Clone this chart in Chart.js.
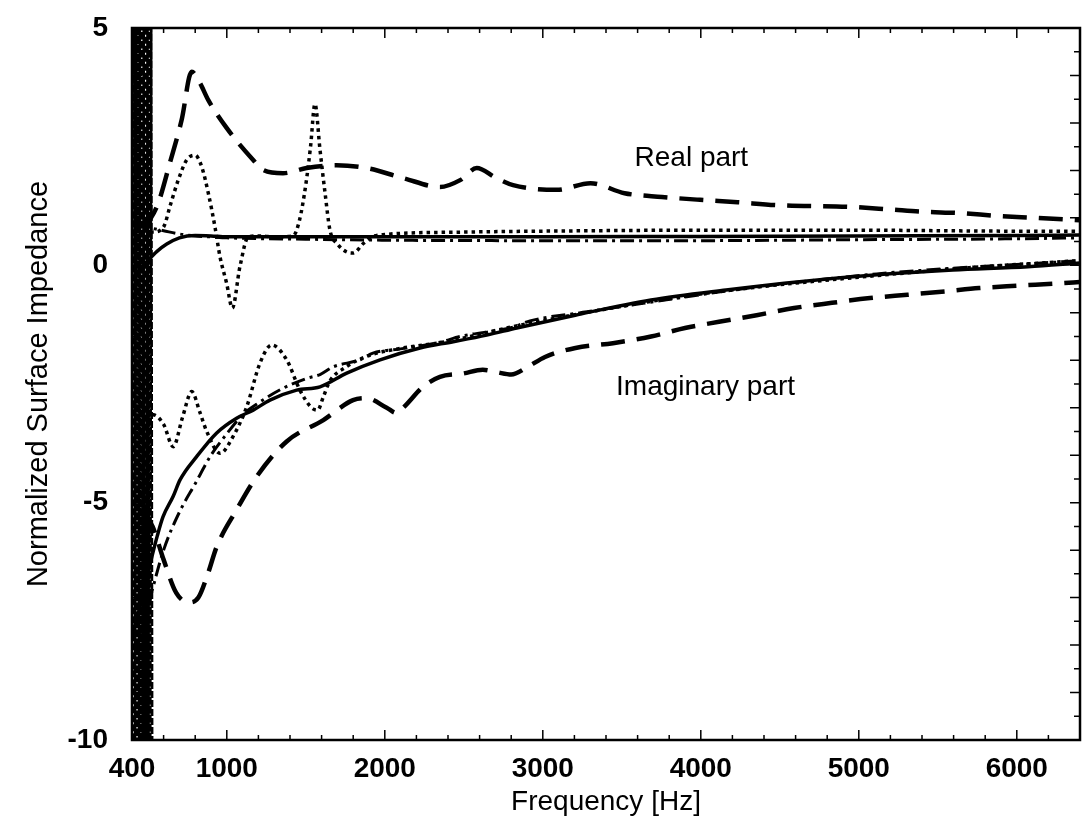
<!DOCTYPE html>
<html>
<head>
<meta charset="utf-8">
<script src="https://cdn.jsdelivr.net/npm/chart.js@4.4.1/dist/chart.umd.min.js"></script>
<style>
  html, body { margin: 0; padding: 0; background: #fff; }
  #chart { display: block; }
</style>
</head>
<body>
<canvas id="chart" width="1092" height="832"></canvas>
<script>
// axis tick labels
const freqTicks = [400, 1000, 2000, 3000, 4000, 5000, 6000];
const impTicks = [-10, -5, 0, 5];

// solid curve
const solidReFreq = [420, 460, 500, 560, 620, 700, 800, 900, 1000, 1500, 2000, 3000, 4000, 5000, 6000, 6400];
const solidRe = [-0.2, -0.05, 0.1, 0.3, 0.45, 0.58, 0.63, 0.62, 0.6, 0.6, 0.6, 0.6, 0.61, 0.62, 0.63, 0.64];
const solidImFreq = [400, 450, 514, 560, 596, 660, 704, 809, 936, 1062, 1167, 1273, 1442, 1590, 1759, 1970, 2223, 2433, 2645, 2835, 3205, 3685, 4160, 4640, 5115, 5596, 6071, 6400];
const solidIm = [-7.8, -7.2, -6.3, -5.7, -5.3, -4.87, -4.52, -4.03, -3.53, -3.22, -3.05, -2.84, -2.63, -2.56, -2.27, -1.99, -1.74, -1.61, -1.47, -1.32, -1.05, -0.73, -0.52, -0.34, -0.2, -0.1, -0.03, 0.05];

// long dashed curve
const dashReFreq = [470, 520, 566, 640, 714, 778, 830, 883, 1000, 1167, 1230, 1356, 1505, 1695, 1885, 2115, 2349, 2480, 2582, 2700, 2812, 3087, 3302, 3517, 3754, 3995, 4233, 4473, 4951, 5189, 5404, 5641, 5881, 6122, 6400];
const dashRe = [0.8, 1.0, 1.31, 2.16, 3.06, 4.08, 3.84, 3.48, 2.89, 2.22, 2.01, 1.94, 2.05, 2.11, 2.05, 1.84, 1.65, 1.8, 2.05, 1.85, 1.69, 1.59, 1.73, 1.52, 1.44, 1.38, 1.33, 1.27, 1.23, 1.18, 1.13, 1.1, 1.04, 1.0, 0.95];
const dashImFreq = [470, 530, 600, 680, 760, 820, 880, 936, 1062, 1189, 1379, 1611, 1799, 1885, 2012, 2075, 2117, 2242, 2349, 2495, 2620, 2708, 2800, 2900, 3014, 3207, 3444, 3685, 3900, 4115, 4353, 4590, 4830, 5071, 5308, 5545, 5761, 6001, 6264, 6400];
const dashIm = [-5.2, -5.5, -6.2, -6.9, -7.1, -7.0, -6.5, -5.93, -5.15, -4.45, -3.71, -3.26, -2.84, -2.8, -3.0, -3.11, -3.0, -2.56, -2.35, -2.28, -2.2, -2.25, -2.3, -2.15, -1.93, -1.74, -1.64, -1.5, -1.32, -1.19, -1.05, -0.9, -0.79, -0.69, -0.62, -0.55, -0.48, -0.43, -0.38, -0.35];

// dotted curve
const dotReFreq = [470, 530, 600, 640, 693, 746, 799, 841, 883, 925, 957, 999, 1035, 1083, 1136, 1200, 1300, 1420, 1460, 1500, 1530, 1558, 1590, 1622, 1653, 1700, 1760, 1800, 1864, 1920, 2000, 2500, 3000, 4000, 5000, 6000, 6400];
const dotRe = [0.75, 0.7, 0.81, 1.24, 1.8, 2.22, 2.32, 2.08, 1.52, 0.81, 0.18, -0.38, -0.9, -0.03, 0.6, 0.62, 0.6, 0.62, 0.95, 1.7, 2.5, 3.4, 2.43, 1.52, 0.74, 0.45, 0.28, 0.26, 0.46, 0.6, 0.65, 0.7, 0.72, 0.74, 0.74, 0.72, 0.72];
const dotImFreq = [470, 535, 600, 661, 720, 778, 830, 873, 957, 1039, 1126, 1210, 1284, 1379, 1463, 1537, 1575, 1611, 1650, 1750, 1900, 2100, 2400, 2800, 3300, 3800, 4300, 5000, 5700, 6400];
const dotIm = [-3.4, -3.15, -3.35, -3.82, -3.2, -2.66, -3.1, -3.5, -3.96, -3.61, -2.98, -2.06, -1.68, -1.99, -2.63, -3.0, -3.05, -2.77, -2.45, -2.15, -1.9, -1.75, -1.6, -1.3, -0.98, -0.7, -0.48, -0.25, -0.05, 0.1];

// dash-dot curve
const dashDotReFreq = [420, 500, 600, 700, 800, 900, 1000, 1500, 2000, 3000, 4000, 5000, 6000, 6400];
const dashDotRe = [0.85, 0.8, 0.73, 0.66, 0.62, 0.6, 0.58, 0.55, 0.53, 0.52, 0.52, 0.54, 0.56, 0.58];
const dashDotImFreq = [420, 500, 600, 700, 800, 900, 1000, 1100, 1200, 1350, 1507, 1590, 1672, 1843, 1925, 2100, 2350, 2475, 2812, 2919, 3280, 3634, 4254, 5115, 5700, 6311, 6400];
const dashDotIm = [-8.2, -7.2, -6.0, -5.2, -4.6, -4.0, -3.55, -3.15, -2.9, -2.6, -2.38, -2.3, -2.14, -1.99, -1.85, -1.76, -1.62, -1.5, -1.3, -1.17, -0.98, -0.8, -0.5, -0.18, -0.04, 0.08, 0.1];

// low frequency scatter (the black band at the left edge)
const noiseFreq = [402, 408, 414, 420, 426, 432, 438, 444, 450, 456, 462, 468, 474, 480, 486, 492, 498, 504, 510, 516, 522, 528];
const noiseVals = [5.5, -10.5, 5.5, -10.5, 5.5, -10.5, 5.5, -10.5, 5.5, -10.5, 5.5, -10.5, 5.5, -10.5, 5.5, -10.5, 5.5, -10.5, 5.5, -10.5, 5.5, -10.5];

const notes = [
  { text: 'Real part', f: 3940, v: 2.26 },
  { text: 'Imaginary part', f: 4030, v: -2.56 }
];

const FONT = '"Liberation Sans", Arial, sans-serif';

const pts = (xs, ys) => xs.map((x, i) => ({ x: x, y: ys[i] }));

function line(data, width, dash) {
  return {
    data: data,
    borderColor: '#000',
    borderWidth: width,
    borderDash: dash,
    pointRadius: 0,
    fill: false,
    cubicInterpolationMode: 'monotone'
  };
}

// frame, inward ticks and the two text notes
const frame = {
  id: 'frame',
  afterDatasetsDraw(chart) {
    const { ctx, chartArea: a, scales: { x, y } } = chart;
    ctx.save();
    ctx.strokeStyle = '#000';
    ctx.lineWidth = 1.5;
    ctx.beginPath();
    for (let f = 600; f < 6400; f += 200) {
      const px = x.getPixelForValue(f);
      const len = f % 1000 === 0 ? 10 : 5;
      ctx.moveTo(px, a.bottom); ctx.lineTo(px, a.bottom - len);
      ctx.moveTo(px, a.top); ctx.lineTo(px, a.top + len);
    }
    for (let v = -9.5; v < 5; v += 0.5) {
      const py = y.getPixelForValue(v);
      const len = Number.isInteger(v) ? 10 : 6;
      ctx.moveTo(a.left, py); ctx.lineTo(a.left + len, py);
      ctx.moveTo(a.right, py); ctx.lineTo(a.right - len, py);
    }
    ctx.stroke();
    ctx.lineWidth = 2.5;
    ctx.strokeRect(a.left, a.top, a.right - a.left, a.bottom - a.top);

    ctx.font = '28px ' + FONT;
    ctx.fillStyle = '#000';
    ctx.textAlign = 'center';
    ctx.textBaseline = 'middle';
    notes.forEach(n => ctx.fillText(n.text, x.getPixelForValue(n.f), y.getPixelForValue(n.v)));
    ctx.restore();
  }
};

const noise = line(pts(noiseFreq, noiseVals), 2.5, [7, 2]);
noise.cubicInterpolationMode = 'default';
noise.tension = 0;
noise.clip = 0;

new Chart(document.getElementById('chart'), {
  type: 'line',
  data: {
    datasets: [
      line(pts(solidReFreq, solidRe), 3.5, []),
      line(pts(solidImFreq, solidIm), 3.5, []),
      line(pts(dashReFreq, dashRe), 4.5, [24, 12]),
      line(pts(dashImFreq, dashIm), 4.5, [24, 12]),
      line(pts(dotReFreq, dotRe), 3.5, [3.5, 4]),
      line(pts(dotImFreq, dotIm), 3.5, [3.5, 4]),
      line(pts(dashDotReFreq, dashDotRe), 3, [14, 5, 3, 5]),
      line(pts(dashDotImFreq, dashDotIm), 3, [14, 5, 3, 5]),
      noise
    ]
  },
  options: {
    responsive: false,
    animation: false,
    devicePixelRatio: 1,
    layout: { padding: { top: 28, right: 12, bottom: 0, left: 0 } },
    plugins: { legend: { display: false }, tooltip: { enabled: false } },
    scales: {
      x: {
        type: 'linear',
        min: 400,
        max: 6400,
        afterBuildTicks: s => { s.ticks = freqTicks.map(v => ({ value: v })); },
        afterFit: s => { s.height = 92; s.paddingLeft = 0; s.paddingRight = 0; },
        grid: { display: false, drawTicks: false },
        border: { display: false },
        ticks: {
          color: '#000',
          font: { family: FONT, size: 28, weight: 'bold' },
          padding: 12,
          maxRotation: 0,
          autoSkip: false,
          callback: v => String(v)
        },
        title: {
          display: true,
          text: 'Frequency [Hz]',
          color: '#000',
          font: { family: FONT, size: 28 },
          padding: { top: 0, bottom: 13 }
        }
      },
      y: {
        type: 'linear',
        min: -10,
        max: 5,
        afterBuildTicks: s => { s.ticks = impTicks.map(v => ({ value: v })); },
        afterFit: s => { s.width = 132; s.paddingTop = 0; s.paddingBottom = 0; },
        grid: { display: false, drawTicks: false },
        border: { display: false },
        ticks: {
          color: '#000',
          font: { family: FONT, size: 28, weight: 'bold' },
          padding: 24,
          callback: v => String(v)
        },
        title: {
          display: true,
          text: 'Normalized Surface Impedance',
          color: '#000',
          font: { family: FONT, size: 29 },
          padding: { top: 22, bottom: 0 }
        }
      }
    }
  },
  plugins: [frame]
});
</script>
</body>
</html>
